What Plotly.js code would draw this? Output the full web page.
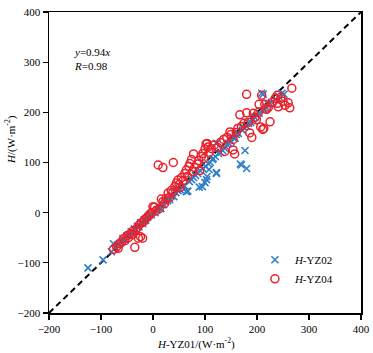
<!DOCTYPE html>
<html>
<head>
<meta charset="utf-8">
<script src="https://cdn.plot.ly/plotly-3.0.1.min.js"></script>
<style>html,body{margin:0;padding:0;background:#fff;}#chart{width:373px;height:353px;}</style>
</head>
<body>
<div id="chart"></div>
<script>
// YZ02 (blue crosses)
const yz02X = [-125,-96,-80,-76,-72,-68,-62,-58,-54,-50,-46,-42,-40,-36,-33,-30,-27,-24,-20,-17,-14,-10,-7,-3,0,4,8,12,15,20,24,28,32,36,40,44,48,52,56,60,64,67,70,74,78,82,86,89,90,95,96,100,101,103,104,106,108,110,114,116,122,122,120,122,126,130,134,138,142,146,150,154,158,160,164,168,170,172,175,177,180,180,184,188,192,196,200,204,209,212,214,218,222,228,236,242,248,252];
const yz02Y = [-110,-94,-78,-62,-70,-64,-60,-52,-55,-46,-44,-38,-42,-32,-35,-27,-28,-20,-22,-14,-15,-9,-5,-4,2,0,6,10,8,16,22,24,26,34,32,40,44,46,50,54,42,43,62,66,70,74,78,51,84,52,88,60,92,66,72,98,86,100,106,108,80,78,112,138,118,120,124,128,136,138,142,150,148,156,158,97,95,164,170,124,88,172,178,180,186,190,194,198,238,236,204,210,216,220,226,232,238,236];
// YZ04 (red circles)
const yz04X = [-76,-70,-67,-64,-60,-57,-54,-50,-47,-44,-40,-38,-35,-33,-30,-28,-26,-24,-20,-22,-18,-16,-12,-8,-5,-2,0,3,6,10,12,16,19,19,22,25,29,32,35,38,39,42,45,48,50,52,55,58,61,64,66,69,71,74,76,78,80,85,88,90,93,96,98,100,102,104,106,108,112,118,124,130,136,138,142,148,150,154,154,157,160,163,167,170,175,180,180,183,186,190,193,196,199,203,204,207,209,211,213,215,218,222,225,230,235,239,239,241,246,250,254,260,263,267];
const yz04Y = [-73,-68,-71,-62,-58,-52,-56,-46,-50,-42,-44,-36,-69,-34,-30,-51,-24,-48,-51,-20,-18,-14,-10,-6,-2,0,12,11,4,95,8,27,22,90,18,28,39,30,44,40,100,52,59,65,56,50,70,64,78,85,72,92,98,106,82,117,90,97,104,84,112,118,108,127,137,138,131,120,128,135,130,140,146,122,150,161,156,146,125,117,160,168,195,172,178,199,236,180,159,150,198,190,185,200,216,171,234,166,168,216,206,210,181,220,228,234,218,211,230,222,214,219,209,248];
const refLine = [-200, 400];
const tickVals = [-200, -100, 0, 100, 200, 300, 400];

const serif = 'Liberation Serif, Times New Roman, serif';
const blue = '#2f7fc8';
const red = '#e8212b';

const traces = [
  {x: refLine, y: refLine, mode: 'lines', line: {color: '#000', width: 2, dash: '6px,4px'}, showlegend: false, hoverinfo: 'skip'},
  {x: yz02X, y: yz02Y, mode: 'markers', name: '<i>H</i>-YZ02',
   marker: {symbol: 'x-thin', size: 7, color: blue, line: {color: blue, width: 1.6}}},
  {x: yz04X, y: yz04Y, mode: 'markers', name: '<i>H</i>-YZ04',
   marker: {symbol: 'circle-open', size: 8, color: red, line: {color: red, width: 1.5}}}
];

const axisCommon = {
  range: [-200, 400], tickvals: tickVals, ticks: 'outside', ticklen: 5, tickwidth: 1.2, tickcolor: '#000',
  showline: true, linecolor: '#000', linewidth: 1.5, mirror: true, showgrid: false, zeroline: false,
  tickfont: {family: serif, size: 11, color: '#000'}
};

const layout = {
  width: 373, height: 353,
  margin: {l: 49, r: 12, t: 12, b: 40},
  paper_bgcolor: '#fff', plot_bgcolor: '#fff',
  font: {family: serif, size: 11, color: '#000'},
  xaxis: Object.assign({}, axisCommon),
  yaxis: Object.assign({}, axisCommon),
  showlegend: true,
  legend: {x: 0.66, y: 0.225, xanchor: 'left', yanchor: 'top', bgcolor: 'rgba(0,0,0,0)',
           font: {family: serif, size: 11, color: '#000'}, itemwidth: 30, tracegroupgap: 0},
  annotations: [
    {xref: 'paper', yref: 'paper', x: 0.075, y: 0.895, xanchor: 'left', yanchor: 'top', align: 'left', showarrow: false,
     text: '<i>y</i>=0.94<i>x</i><br><i>R</i>=0.98', font: {family: serif, size: 11, color: '#000'}},
    {xref: 'paper', yref: 'paper', x: 0.47, y: 0, yshift: -30, xanchor: 'center', yanchor: 'middle', showarrow: false,
     text: '<i>H</i>-YZ01/(W·m<sup>-2</sup>)', font: {family: serif, size: 11, color: '#000'}},
    {xref: 'paper', yref: 'paper', x: 0, xshift: -38, y: 0.575, xanchor: 'center', yanchor: 'middle', textangle: -90, showarrow: false,
     text: '<i>H</i>/(W·m<sup>-2</sup>)', font: {family: serif, size: 11, color: '#000'}}
  ]
};

Plotly.newPlot('chart', traces, layout, {displayModeBar: false, staticPlot: true});
</script>
</body>
</html>
